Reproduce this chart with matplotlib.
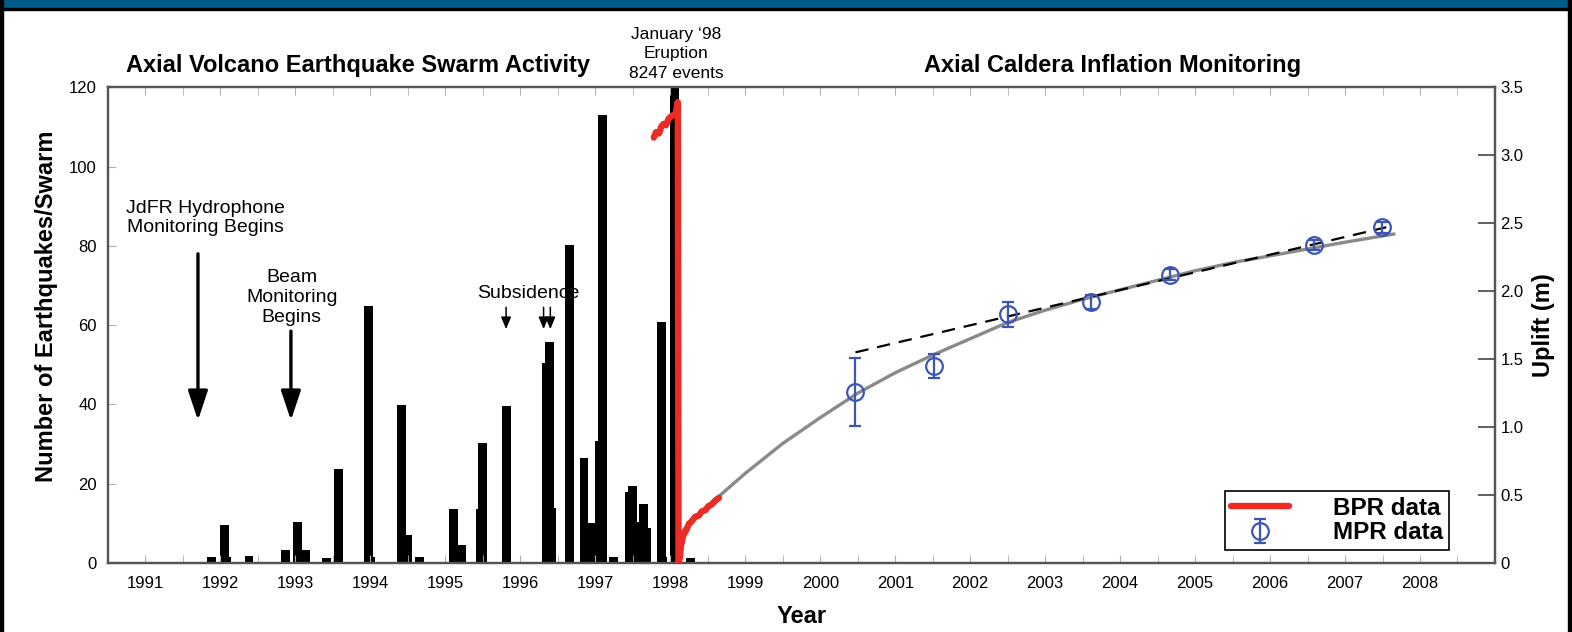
import numpy as np
import matplotlib
matplotlib.use("Agg")
import matplotlib.pyplot as plt
from matplotlib.patches import Rectangle
from matplotlib.ticker import FuncFormatter, MultipleLocator

plt.rcParams["font.family"] = ["Liberation Sans", "DejaVu Sans"]

# ── data ─────────────────────────────────────────────────────────────────────
# earthquake swarms (decimal year, events per swarm)
SWARM_YEAR = [1991.88, 1992.05, 1992.08, 1992.38, 1992.87, 1993.03, 1993.14,
              1993.42, 1993.57, 1993.97, 1994.00, 1994.42, 1994.50, 1994.66,
              1995.11, 1995.22, 1995.47, 1995.49, 1995.81, 1996.35, 1996.39,
              1996.41, 1996.66, 1996.85, 1996.96, 1997.06, 1997.10, 1997.24,
              1997.46, 1997.50, 1997.53, 1997.64, 1997.68, 1997.88, 1997.90,
              1998.06, 1998.27]
SWARM_COUNT = [1.5, 9.6, 1.5, 1.8, 3.3, 10.4, 3.3,
               1.3, 23.8, 64.8, 1.5, 39.8, 7.0, 1.5,
               13.6, 4.5, 13.6, 30.4, 39.5, 50.4, 55.8,
               13.9, 80.3, 26.6, 10.1, 30.9, 112.9, 1.5,
               18.0, 19.5, 10.4, 15.0, 8.9, 60.8, 1.5,
               8247, 1.3]

# bottom pressure recorder uplift (m)
BPR_YEAR = [1997.78, 1997.81, 1997.85, 1997.88, 1997.91, 1997.94, 1997.98,
            1998.02, 1998.07, 1998.10, 1998.11, 1998.13, 1998.14, 1998.17,
            1998.21, 1998.25, 1998.29, 1998.33, 1998.38, 1998.42, 1998.47,
            1998.51, 1998.55, 1998.60, 1998.65]
BPR_UPLIFT = [3.13, 3.17, 3.16, 3.21, 3.23, 3.22, 3.27,
              3.29, 3.30, 3.39, 0.0, 0.05, 0.12, 0.20,
              0.24, 0.29, 0.31, 0.34, 0.35, 0.38, 0.39,
              0.42, 0.43, 0.46, 0.48]

# mobile pressure recorder campaigns
MPR_YEAR = [2000.47, 2001.52, 2002.50, 2003.61, 2004.67, 2006.59, 2007.49]
MPR_UPLIFT = [1.26, 1.45, 1.83, 1.92, 2.12, 2.34, 2.47]
MPR_ERR = [0.25, 0.09, 0.09, 0.05, 0.04, 0.04, 0.04]

# inflation model curve
FIT_YEAR = [1998.13, 1998.5, 1999.0, 1999.5, 2000.0, 2000.5, 2001.0, 2001.5,
            2002.0, 2002.5, 2003.0, 2003.5, 2004.0, 2004.5, 2005.0, 2005.5,
            2006.0, 2006.5, 2007.0, 2007.65]
FIT_UPLIFT = [0.22, 0.42, 0.66, 0.88, 1.07, 1.25, 1.40, 1.53,
              1.65, 1.77, 1.86, 1.94, 2.01, 2.08, 2.15, 2.21,
              2.26, 2.31, 2.36, 2.42]

# linear trend
TREND_YEAR = [2000.47, 2007.55]
TREND_UPLIFT = [1.55, 2.47]

YEARS = list(range(1991, 2009))

BLUE = "#3b55b5"
RED = "#ee2a24"
GRAY = "#8a8a8a"

# ── figure ───────────────────────────────────────────────────────────────────
fig = plt.figure(figsize=(15.72, 6.32), dpi=100)
ax = fig.add_axes([0.0687, 0.109, 0.8823, 0.753])
ax2 = ax.twinx()

ax.bar(SWARM_YEAR, SWARM_COUNT, width=0.118, color="black", linewidth=0)

ax2.plot(BPR_YEAR, BPR_UPLIFT, color=RED, lw=4.6, solid_capstyle="round",
         label="BPR data", zorder=4)
ax2.plot(FIT_YEAR, FIT_UPLIFT, color=GRAY, lw=2.4, zorder=2)
ax2.plot(TREND_YEAR, TREND_UPLIFT, color="black", lw=1.6,
         dashes=(6, 4), zorder=2)
ax2.errorbar(MPR_YEAR, MPR_UPLIFT, yerr=MPR_ERR, fmt="o", mfc="none",
             mec=BLUE, ms=12, mew=1.6, ecolor=BLUE, elinewidth=1.6,
             capsize=4, capthick=1.6, label="MPR data", zorder=3)

ax.set_xlim(1990.5, 2009.0)
ax.set_ylim(0, 120)
ax2.set_ylim(0, 3.5)

ax.set_xticks(YEARS)
ax.set_xticklabels([str(y) for y in YEARS])
ax.xaxis.set_minor_locator(MultipleLocator(0.5))
ax.set_yticks(range(0, 121, 20))
ax.tick_params(axis="x", which="both", direction="in", top=True,
               length=6, color="#b0b0b0", labelsize=12, pad=9)
ax.tick_params(axis="y", direction="in", length=6, color="#b0b0b0",
               labelsize=12, pad=8)
ax2.set_yticks(np.arange(0, 3.51, 0.5))
ax2.yaxis.set_major_formatter(
    FuncFormatter(lambda v, p: "0" if v == 0 else f"{v:.1f}"))
ax2.tick_params(axis="y", direction="in", length=12, color="#444444",
                width=1.2, labelsize=12, pad=4)

for a in (ax, ax2):
    for sp in a.spines.values():
        sp.set_color("#555555")
        sp.set_linewidth(1.6)

ax.set_ylabel("Number of Earthquakes/Swarm", fontsize=17, fontweight="bold")
ax.yaxis.set_label_coords(-0.036, 0.54)
ax2.set_ylabel("Uplift (m)", fontsize=17, fontweight="bold", labelpad=6)
ax.set_xlabel("Year", fontsize=17, fontweight="bold", labelpad=10)

# titles above the two halves
ax.text(0.18, 1.022, "Axial Volcano Earthquake Swarm Activity",
        transform=ax.transAxes, ha="center", va="bottom",
        fontsize=17, fontweight="bold")
ax.text(0.724, 1.022, "Axial Caldera Inflation Monitoring",
        transform=ax.transAxes, ha="center", va="bottom",
        fontsize=17, fontweight="bold")
ax.text(1998.08, 121.5, "January \u201898\nEruption\n8247 events",
        ha="center", va="bottom", fontsize=12.5, linespacing=1.4,
        clip_on=False)

# annotations with arrows
big = dict(arrowstyle="-|>,head_length=0.9,head_width=0.3",
           mutation_scale=20, lw=2.4, color="black", shrinkA=0, shrinkB=0)
small = dict(arrowstyle="-|>,head_length=0.6,head_width=0.25",
             mutation_scale=12, lw=1.1, color="black", shrinkA=0, shrinkB=0)

ax.text(1991.8, 87, "JdFR Hydrophone\nMonitoring Begins", ha="center",
        va="center", fontsize=14, linespacing=1.2)
ax.annotate("", xy=(1991.70, 36), xytext=(1991.70, 78), arrowprops=big)

ax.text(1992.95, 67, "Beam\nMonitoring\nBegins", ha="center",
        va="center", fontsize=14, linespacing=1.2)
ax.annotate("", xy=(1992.94, 36), xytext=(1992.94, 58.5), arrowprops=big)

ax.text(1996.10, 68, "Subsidence", ha="center", va="center", fontsize=14)
for yr in (1995.81, 1996.31, 1996.40):
    ax.annotate("", xy=(yr, 59), xytext=(yr, 64.5), arrowprops=small)

leg = ax2.legend(loc="lower right", bbox_to_anchor=(0.967, 0.027),
                 prop=dict(size=17.5, weight="bold"), frameon=True,
                 fancybox=False, edgecolor="black", framealpha=1,
                 handlelength=2.4, handletextpad=1.8, borderpad=0.25,
                 labelspacing=0.05, borderaxespad=0)
leg.get_frame().set_linewidth(1.2)

# page frame: blue band on top, black edges
fig.patches.append(Rectangle((0, 1 - 8 / 632), 1, 8 / 632,
                             transform=fig.transFigure, color="#005b87"))
fig.patches.append(Rectangle((0, 1 - 10 / 632), 1, 2 / 632,
                             transform=fig.transFigure, color="black"))
fig.patches.append(Rectangle((0, 0), 3 / 1572, 1,
                             transform=fig.transFigure, color="black"))
fig.patches.append(Rectangle((1 - 4 / 1572, 0), 4 / 1572, 1,
                             transform=fig.transFigure, color="black"))

fig.savefig("out.png", dpi=100)
